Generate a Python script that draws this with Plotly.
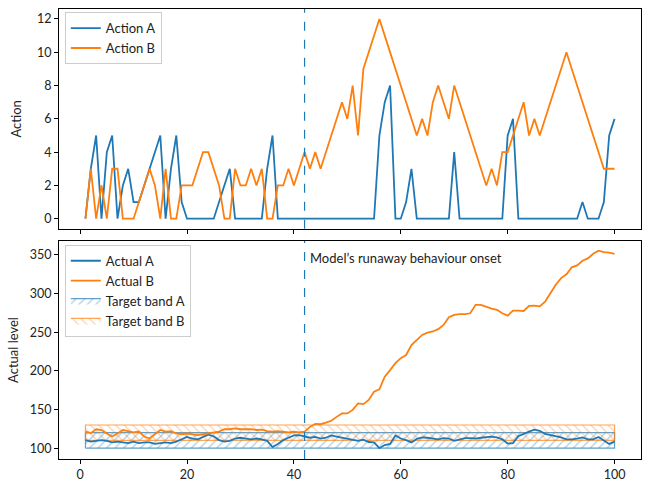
import plotly.graph_objects as go
from plotly.subplots import make_subplots

steps = list(range(1, 101))

action_a = [0, 3, 5, 0, 4, 5, 0, 2, 3, 1,
            1, 2, 3, 4, 5, 0, 3, 5, 1, 0,
            0, 0, 0, 0, 0, 1, 2, 3, 0, 0,
            0, 0, 0, 0, 3, 5, 0, 0, 0, 0,
            0, 0, 0, 0, 0, 0, 0, 0, 0, 0,
            0, 0, 0, 0, 0, 5, 7, 8, 0, 0,
            1, 3, 0, 0, 0, 0, 0, 0, 0, 4,
            0, 0, 0, 0, 0, 0, 0, 0, 0, 5,
            6, 0, 0, 0, 0, 0, 0, 0, 0, 0,
            0, 0, 0, 1, 0, 0, 0, 1, 5, 6]

action_b = [0, 3, 0, 2, 0, 3, 3, 0, 0, 0,
            1, 2, 3, 2, 0, 3, 0, 0, 2, 2,
            2, 3, 4, 4, 3, 2, 0, 0, 3, 2,
            2, 3, 2, 3, 0, 0, 2, 2, 3, 2,
            3, 4, 3, 4, 3, 4, 5, 6, 7, 6,
            8, 5, 9, 10, 11, 12, 11, 10, 9, 8,
            7, 6, 5, 6, 5, 7, 8, 7, 6, 8,
            7, 6, 5, 4, 3, 2, 3, 2, 4, 4,
            5, 6, 7, 5, 6, 5, 6, 7, 8, 9,
            10, 9, 8, 7, 6, 5, 4, 3, 3, 3]

actual_a = [110.5, 108.5, 109.5, 110.5, 109.5, 107.5, 108.5, 107.5, 106.5, 108.5,
            106.5, 107.5, 107.5, 105.5, 106.5, 107.5, 106.5, 108.5, 111.5, 114.5,
            112.5, 111.5, 114.5, 117.5, 115.5, 110.5, 108.5, 109.5, 112.5, 113.5,
            112.5, 111.5, 112.5, 111.5, 109.5, 101.5, 105.5, 110.5, 113.5, 116.5,
            117, 115.5, 113.5, 114.5, 112.5, 113.5, 116.5, 115, 113.5, 112.5,
            110.5, 109.5, 111, 108, 107.5, 100, 104, 105.5, 116.5, 112.5,
            110.5, 107.5, 112, 114, 113.5, 112.5, 111.5, 113, 112.5, 109.5,
            111.5, 113, 113, 112.5, 113.5, 114.5, 115, 114, 111.5, 106,
            106.5, 115.5, 119, 121.5, 124, 122.5, 118.5, 117, 115.5, 114,
            111.5, 111.5, 112.5, 114, 111.5, 111.5, 114.5, 109.5, 105.5, 108.5]

actual_b = [121.5, 119.5, 124.5, 123.5, 119, 115, 119, 123.5, 122, 120.5,
            121.5, 115, 112.5, 118, 123.5, 121.5, 122, 119, 118, 119,
            118, 117, 118, 119, 120.5, 121.5, 124.5, 124.5, 125.5, 124.5,
            124.5, 124.5, 123.5, 124, 122, 121.5, 122, 121.5, 120.5, 121.5,
            120.5, 121.5, 127.5, 131.5, 131, 133, 135.5, 140.5, 145, 145,
            149.5, 158, 157, 162.5, 173, 176, 192.5, 201, 210, 216.5,
            220.5, 233.5, 240, 246.5, 249.5, 251, 254, 259.5, 269.5, 272.5,
            273.5, 273.5, 274.5, 285.5, 285.5, 282.5, 280.5, 279, 274.5, 271.5,
            278, 278, 277.5, 284, 284.5, 283.5, 289.5, 300.5, 311.5, 320,
            325, 334, 336.5, 342.5, 345.5, 351.5, 355.5, 353.5, 353, 351.5]

band_a = [100, 120]
band_b = [110, 130]
onset_step = 42
onset_label = "Model’s runaway behaviour onset"

BLUE = "#1f77b4"
ORANGE = "#ff7f0e"
FONT = "Lato"

fig = make_subplots(rows=2, cols=1, shared_xaxes=True, vertical_spacing=0.0)

# Top: actions
fig.add_trace(go.Scatter(x=steps, y=action_a, mode="lines", name="Action A",
                         line=dict(color=BLUE, width=1.8), legend="legend"), row=1, col=1)
fig.add_trace(go.Scatter(x=steps, y=action_b, mode="lines", name="Action B",
                         line=dict(color=ORANGE, width=1.8), legend="legend"), row=1, col=1)

# Bottom: target bands
x0, x1 = steps[0], steps[-1]
fig.add_trace(go.Scatter(x=[x0, x1, x1, x0, x0], y=[band_a[0], band_a[0], band_a[1], band_a[1], band_a[0]],
                         mode="lines", fill="toself", name="Target band A",
                         line=dict(color="rgba(31,119,180,0.7)", width=1.2),
                         fillcolor="rgba(0,0,0,0)",
                         fillpattern=dict(shape="/", fgcolor="rgba(31,119,180,0.75)", bgcolor="rgba(0,0,0,0)",
                                          size=6, solidity=0.2),
                         legend="legend2", legendrank=3), row=2, col=1)
fig.add_trace(go.Scatter(x=[x0, x1, x1, x0, x0], y=[band_b[0], band_b[0], band_b[1], band_b[1], band_b[0]],
                         mode="lines", fill="toself", name="Target band B",
                         line=dict(color="rgba(255,127,14,0.7)", width=1.2),
                         fillcolor="rgba(0,0,0,0)",
                         fillpattern=dict(shape="\\", fgcolor="rgba(255,127,14,0.75)", bgcolor="rgba(0,0,0,0)",
                                          size=6, solidity=0.2),
                         legend="legend2", legendrank=4), row=2, col=1)

fig.add_trace(go.Scatter(x=steps, y=actual_a, mode="lines", name="Actual A",
                         line=dict(color=BLUE, width=1.8), legend="legend2", legendrank=1), row=2, col=1)
fig.add_trace(go.Scatter(x=steps, y=actual_b, mode="lines", name="Actual B",
                         line=dict(color=ORANGE, width=1.8), legend="legend2", legendrank=2), row=2, col=1)

for r in (1, 2):
    fig.add_vline(x=onset_step, line=dict(color=BLUE, width=1.2, dash="dash"), row=r, col=1)

fig.add_annotation(x=onset_step, y=0.97, xref="x2", yref="y2 domain", text=onset_label,
                   showarrow=False, xanchor="left", yanchor="top", xshift=3,
                   font=dict(family=FONT, size=13, color="#222"))

axis_common = dict(showline=True, linecolor="black", linewidth=1, mirror=True,
                   ticks="outside", ticklen=4, tickcolor="black", showgrid=False, zeroline=False,
                   tickfont=dict(family=FONT, size=12.5, color="#222"))

fig.update_xaxes(range=[-3.95, 104.95], tickvals=[0, 20, 40, 60, 80, 100], **axis_common)
fig.update_xaxes(showticklabels=False, row=1, col=1)
fig.update_yaxes(**axis_common)
fig.update_yaxes(range=[-0.6, 12.6], tickvals=[0, 2, 4, 6, 8, 10, 12],
                 title=dict(text="Action", font=dict(family=FONT, size=13, color="#222"), standoff=12),
                 domain=[0.5118, 1.0], row=1, col=1)
fig.update_yaxes(range=[86, 368], tickvals=[100, 150, 200, 250, 300, 350],
                 title=dict(text="Actual level", font=dict(family=FONT, size=13, color="#222"), standoff=8),
                 domain=[0.0, 0.4844], row=2, col=1)

legend_style = dict(bgcolor="rgba(255,255,255,0.85)", bordercolor="#cccccc", borderwidth=1,
                    font=dict(family=FONT, size=13, color="#222"), xanchor="left", yanchor="top",
                    itemwidth=30, tracegroupgap=0)
fig.update_layout(
    width=651, height=491,
    margin=dict(l=59, r=9.5, t=9, b=32),
    plot_bgcolor="white", paper_bgcolor="white",
    font=dict(family=FONT, size=13, color="#222"),
    legend=dict(x=0.01, y=0.993, **legend_style),
    legend2=dict(x=0.01, y=0.476, **legend_style),
)

fig.write_html("out.html")
